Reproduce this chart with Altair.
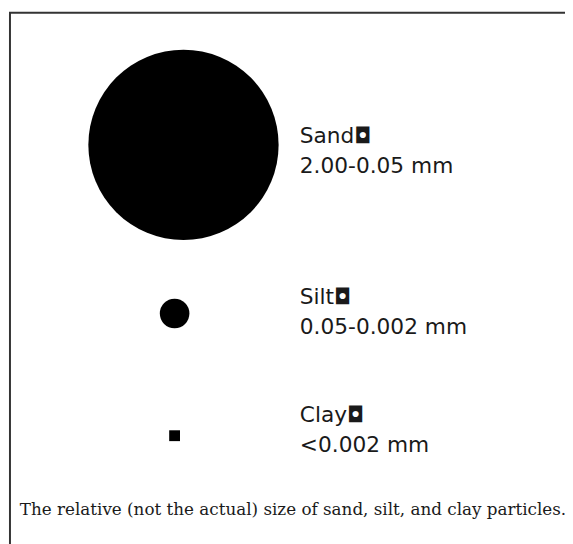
import altair as alt
import pandas as pd

# ---- data ----
particles = ["Sand", "Silt", "Clay"]
name_labels = ["Sand◘", "Silt◘", "Clay◘"]
size_ranges = ["2.00-0.05 mm", "0.05-0.002 mm", "<0.002 mm"]
relative_diameter = [193, 30, 11]          # relative (not actual) diameters
marker_shapes = ["circle", "circle", "square"]
caption = ["The relative (not the actual) size of sand, silt, and clay particles."]

df = pd.DataFrame({
    "particle": particles,
    "name": name_labels,
    "range": size_ranges,
    "diameter": relative_diameter,
    "shape": marker_shapes,
    "row": list(range(len(particles))),
})
cap_df = pd.DataFrame({"caption": caption})

W, H = 565, 536
rows = [0, 1, 2]
y_scale = alt.Scale(domain=rows, range=[135, 306, 430])
name_scale = alt.Scale(domain=rows, range=[133, 296, 416])
range_scale = alt.Scale(domain=rows, range=[164, 327, 447])
x_scale = alt.Scale(domain=rows, range=[178, 169, 169])
# Vega symbol size: diameter = sqrt(size)
size_scale = alt.Scale(type="pow", exponent=2, domain=[0, 193], range=[0, 193 * 193])

base = alt.Chart(df)

markers = base.mark_point(filled=True, color="black", opacity=1, strokeWidth=0).encode(
    x=alt.X("row:Q", scale=x_scale, axis=None),
    y=alt.Y("row:Q", scale=y_scale, axis=None),
    size=alt.Size("diameter:Q", scale=size_scale, legend=None),
    shape=alt.Shape("shape:N", scale=None, legend=None),
)

label_style = dict(font="DejaVu Sans", fontSize=22, color="#1a1a1a", align="left",
                   baseline="alphabetic")

names = base.mark_text(**label_style).encode(
    x=alt.value(296),
    y=alt.Y("row:Q", scale=name_scale, axis=None),
    text="name:N",
)
ranges = base.mark_text(**label_style).encode(
    x=alt.value(296),
    y=alt.Y("row:Q", scale=range_scale, axis=None),
    text="range:N",
)

frame = alt.Chart(cap_df).mark_rect(fill="white", fillOpacity=0, stroke="#333333", strokeWidth=2).encode(
    x=alt.value(2), x2=alt.value(W + 40), y=alt.value(1), y2=alt.value(H + 40)
)

cap_text = alt.Chart(cap_df).mark_text(
    font="DejaVu Serif", fontSize=17, color="#1a1a1a", align="left", baseline="alphabetic"
).encode(
    x=alt.value(12), y=alt.value(510), text="caption:N"
)

chart = alt.layer(frame, markers, names, ranges, cap_text).resolve_scale(
    y="independent"
).properties(
    width=W, height=H, autosize=alt.AutoSizeParams(type="none"), padding=0,
    background="white",
).configure_view(strokeWidth=0)

chart.save("out.html", embed_options={"renderer": "svg", "actions": False})
